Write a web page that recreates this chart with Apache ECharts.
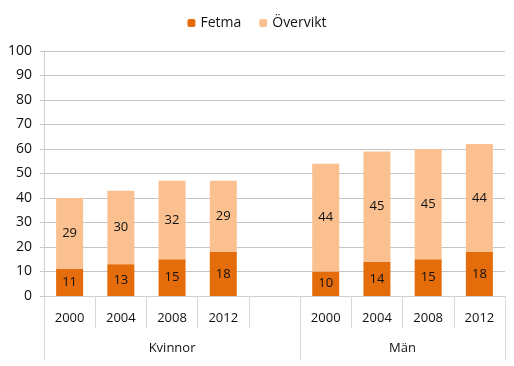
<!DOCTYPE html>
<html>
<head>
<meta charset="utf-8">
<script src="https://cdn.jsdelivr.net/npm/echarts@6/dist/echarts.min.js"></script>
<style>html,body{margin:0;padding:0;background:#fff;}#c{width:514px;height:366px;}</style>
</head>
<body>
<div id="c"></div>
<script>
var years = ['2000','2004','2008','2012','','2000','2004','2008','2012'];
var groups = ['Kvinnor','Män'];
var fetma = [11,13,15,18,'-',10,14,15,18];
var overvikt = [29,30,32,29,'-',44,45,45,44];
var yTicks = [0,10,20,30,40,50,60,70,80,90,100];

// group axis: half-slot positions (boundaryGap false), labels at group centres, ticks at group edges
var halfSlots = [];
for (var i = 0; i <= years.length * 2; i++) halfSlots.push('');
halfSlots[5] = groups[0];
halfSlots[14] = groups[1];

var FONT = '"Open Sans", sans-serif';
var chart = echarts.init(document.getElementById('c'));
chart.setOption({
  animation: false,
  textStyle: {fontFamily: FONT},
  legend: {
    top: 11, left: 'center',
    itemWidth: 8, itemHeight: 8, itemGap: 18,
    textStyle: {fontFamily: FONT, fontSize: 14, color: '#111'},
    data: ['Fetma','Övervikt']
  },
  grid: {left: 44, right: 9, top: 51, bottom: 70, containLabel: false},
  xAxis: [{
    type: 'category',
    data: years,
    axisLine: {show: true, lineStyle: {color: '#d0d0d0'}},
    axisTick: {show: true, length: 32, interval: 0, lineStyle: {color: '#d9d9d9'}},
    axisLabel: {interval: 0, margin: 16, fontFamily: FONT, fontSize: 13, color: '#111'}
  }, {
    type: 'category',
    data: halfSlots,
    boundaryGap: false,
    position: 'bottom',
    axisLine: {show: false},
    axisTick: {show: true, length: 64, interval: function(i){return i===0||i===10||i===18;}, lineStyle: {color: '#d9d9d9'}},
    axisLabel: {interval: function(i){return i===5||i===14;}, margin: 46, fontFamily: FONT, fontSize: 13, color: '#111'}
  }],
  yAxis: {
    type: 'value', min: 0, max: 100, interval: 10,
    axisLine: {show: true, lineStyle: {color: '#d0d0d0'}},
    axisTick: {show: true, length: 4, lineStyle: {color: '#c8c8c8'}},
    splitLine: {show: true, lineStyle: {color: '#c4c4c4'}},
    axisLabel: {margin: 12, fontFamily: FONT, fontSize: 14, color: '#111',
      formatter: function(v){ return yTicks.indexOf(v) >= 0 ? String(v) : ''; }}
  },
  series: [{
    name: 'Fetma', type: 'bar', stack: 's', xAxisIndex: 0, barWidth: 27,
    data: fetma,
    itemStyle: {color: '#E46C0A'},
    label: {show: true, position: 'inside', fontFamily: FONT, fontSize: 13, color: '#111'}
  }, {
    name: 'Övervikt', type: 'bar', stack: 's', xAxisIndex: 0, barWidth: 27,
    data: overvikt,
    itemStyle: {color: '#FAC090'},
    label: {show: true, position: 'inside', fontFamily: FONT, fontSize: 13, color: '#111'}
  }]
});
</script>
</body>
</html>
